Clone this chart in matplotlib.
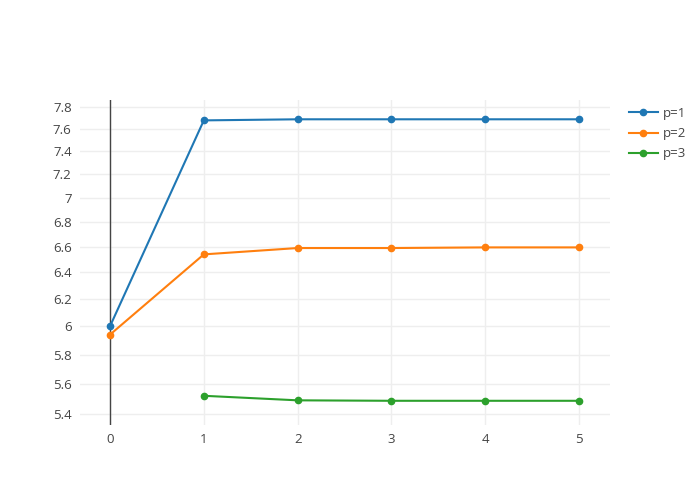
import matplotlib
matplotlib.use("Agg")
import matplotlib.pyplot as plt
from matplotlib.ticker import FixedLocator, NullLocator, FuncFormatter

plt.rcParams['font.family'] = ['Open Sans', 'DejaVu Sans']

steps = [0, 1, 2, 3, 4, 5]
p1 = [6.00, 7.68, 7.69, 7.69, 7.69, 7.69]
p2 = [5.94, 6.54, 6.59, 6.59, 6.595, 6.595]
p3_x = [1, 2, 3, 4, 5]
p3 = [5.52, 5.49, 5.487, 5.487, 5.487]

yticks = [5.4, 5.6, 5.8, 6, 6.2, 6.4, 6.6, 6.8, 7, 7.2, 7.4, 7.6, 7.8]
colors = ['#1f77b4', '#ff7f0e', '#2ca02c']

fig = plt.figure(figsize=(7, 5), dpi=100)
ax = fig.add_axes([80/700, 75/500, 530/700, 325/500])

ax.plot(steps, p1, color=colors[0], lw=1.5, marker='o', ms=4.5, label='p=1', zorder=3)
ax.plot(steps, p2, color=colors[1], lw=1.5, marker='o', ms=4.5, label='p=2', zorder=3)
ax.plot(p3_x, p3, color=colors[2], lw=1.5, marker='o', ms=4.5, label='p=3', zorder=3)

ax.set_yscale('log')
ax.set_xlim(-0.32, 5.33)
ax.set_ylim(5.33, 7.87)
ax.yaxis.set_major_locator(FixedLocator(yticks))
ax.yaxis.set_minor_locator(NullLocator())
ax.yaxis.set_major_formatter(FuncFormatter(lambda v, _: f'{v:g}'))
ax.set_xticks(steps)

ax.grid(True, color='#eeeeee', lw=1, zorder=0)
ax.axvline(0, color='#444444', lw=1, zorder=2)
for s in ax.spines.values():
    s.set_visible(False)
ax.tick_params(length=0, labelsize=9.5, colors='#444444', pad=6)

leg = ax.legend(loc='upper left', bbox_to_anchor=(1.025, 0.995), frameon=False,
                fontsize=9.5, handlelength=2.2, labelspacing=0.55, borderaxespad=0,
                handletextpad=0.4)
for t in leg.get_texts():
    t.set_color('#444444')

fig.savefig('out.png', dpi=100)
